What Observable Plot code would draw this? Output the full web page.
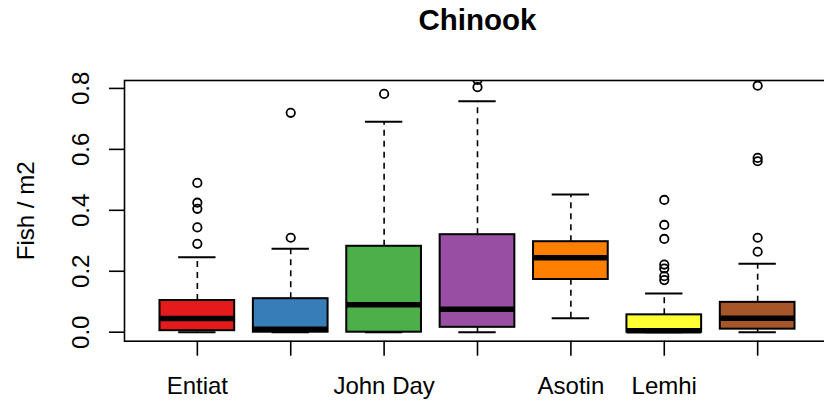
<!DOCTYPE html>
<html>
<head>
<meta charset="utf-8">
<script src="https://cdn.jsdelivr.net/npm/d3@7"></script>
<script src="https://cdn.jsdelivr.net/npm/@observablehq/plot@0.6"></script>
<style>
  body { margin: 0; background: #fff; overflow: hidden; }
</style>
</head>
<body>
<div id="chart"></div>
<script>
// Chinook density per site: box-and-whisker summaries (Fish / m2)
const tickLabels = ["Entiat", "", "John Day", "", "Asotin", "Lemhi", ""];
const boxColors = ["#E41A1C", "#377EB8", "#4DAF4A", "#984EA3", "#FF7F00", "#FFFF33", "#A65628"];
const whiskerLow  = [0.000, 0.000, 0.000, 0.000, 0.046, 0.000, 0.000];
const lowerHinge  = [0.005, 0.000, 0.000, 0.016, 0.173, 0.000, 0.010];
const medians     = [0.045, 0.010, 0.090, 0.075, 0.244, 0.005, 0.046];
const upperHinge  = [0.104, 0.110, 0.282, 0.320, 0.297, 0.057, 0.098];
const whiskerHigh = [0.246, 0.274, 0.691, 0.758, 0.452, 0.127, 0.225];
const outliers = [
  [0.290, 0.344, 0.405, 0.425, 0.490],
  [0.310, 0.720],
  [0.782],
  [0.804, 0.828],
  [],
  [0.171, 0.184, 0.209, 0.222, 0.306, 0.352, 0.434],
  [0.264, 0.310, 0.561, 0.572, 0.809]
];
const yTicks = [0, 0.2, 0.4, 0.6, 0.8];

const groups = boxColors.map((color, i) => ({
  pos: i + 1, color,
  lo: whiskerLow[i], q1: lowerHinge[i], med: medians[i], q3: upperHinge[i], hi: whiskerHigh[i]
}));
const outlierPoints = outliers.flatMap((vals, i) => vals.map(v => ({pos: i + 1, value: v})));

const boxHalf = 0.4, capHalf = 0.2;
const line = {stroke: "black", strokeWidth: 1.6};

const chart = Plot.plot({
  width: 824,
  height: 402,
  marginLeft: 124,
  marginRight: -6,
  marginTop: 80,
  marginBottom: 61.3,
  x: {domain: [0.22, 7.78]},
  y: {domain: [-0.0295, 0.826]},
  color: {type: "identity"},
  style: {fontFamily: "'Liberation Sans', Arial, Helvetica, sans-serif", background: "white", color: "black", overflow: "hidden"},
  marks: [
    // dashed whiskers
    Plot.ruleX(groups, {x: "pos", y1: "q3", y2: "hi", ...line, strokeDasharray: "6,5"}),
    Plot.ruleX(groups, {x: "pos", y1: "lo", y2: "q1", ...line, strokeDasharray: "6,5"}),
    // whisker caps
    Plot.ruleY(groups, {y: "hi", x1: d => d.pos - capHalf, x2: d => d.pos + capHalf, ...line, strokeWidth: 2}),
    Plot.ruleY(groups, {y: "lo", x1: d => d.pos - capHalf, x2: d => d.pos + capHalf, ...line, strokeWidth: 2}),
    // boxes
    Plot.rect(groups, {x1: d => d.pos - boxHalf, x2: d => d.pos + boxHalf, y1: "q1", y2: "q3", fill: "color", stroke: "black", strokeWidth: 2}),
    // medians
    Plot.ruleY(groups, {y: "med", x1: d => d.pos - boxHalf, x2: d => d.pos + boxHalf, stroke: "black", strokeWidth: 5.5}),
    // outliers
    Plot.dot(outlierPoints, {x: "pos", y: "value", r: 4.2, stroke: "black", strokeWidth: 1.8, fill: "none", clip: true}),
    Plot.frame({stroke: "black", strokeWidth: 1.6}),
    Plot.axisX({ticks: d3.range(1, 8), tickFormat: i => tickLabels[i - 1], tickSize: 15, tickPadding: 21, fontSize: 24, strokeWidth: 1.6, label: null}),
    Plot.axisY({ticks: yTicks, tickFormat: d3.format(".1f"), tickRotate: -90, tickSize: 15, tickPadding: 20.7, fontSize: 24, strokeWidth: 1.6, label: null}),
    Plot.text(["Fish / m2"], {frameAnchor: "left", textAnchor: "middle", rotate: -90, dx: -91, lineAnchor: "bottom", fontSize: 24, fill: "black"}),
    Plot.text(["Chinook"], {frameAnchor: "top", textAnchor: "middle", dy: -51, lineAnchor: "bottom", fontSize: 29.5, fontWeight: "bold", fill: "black"})
  ]
});
document.getElementById("chart").append(chart);
</script>
</body>
</html>
